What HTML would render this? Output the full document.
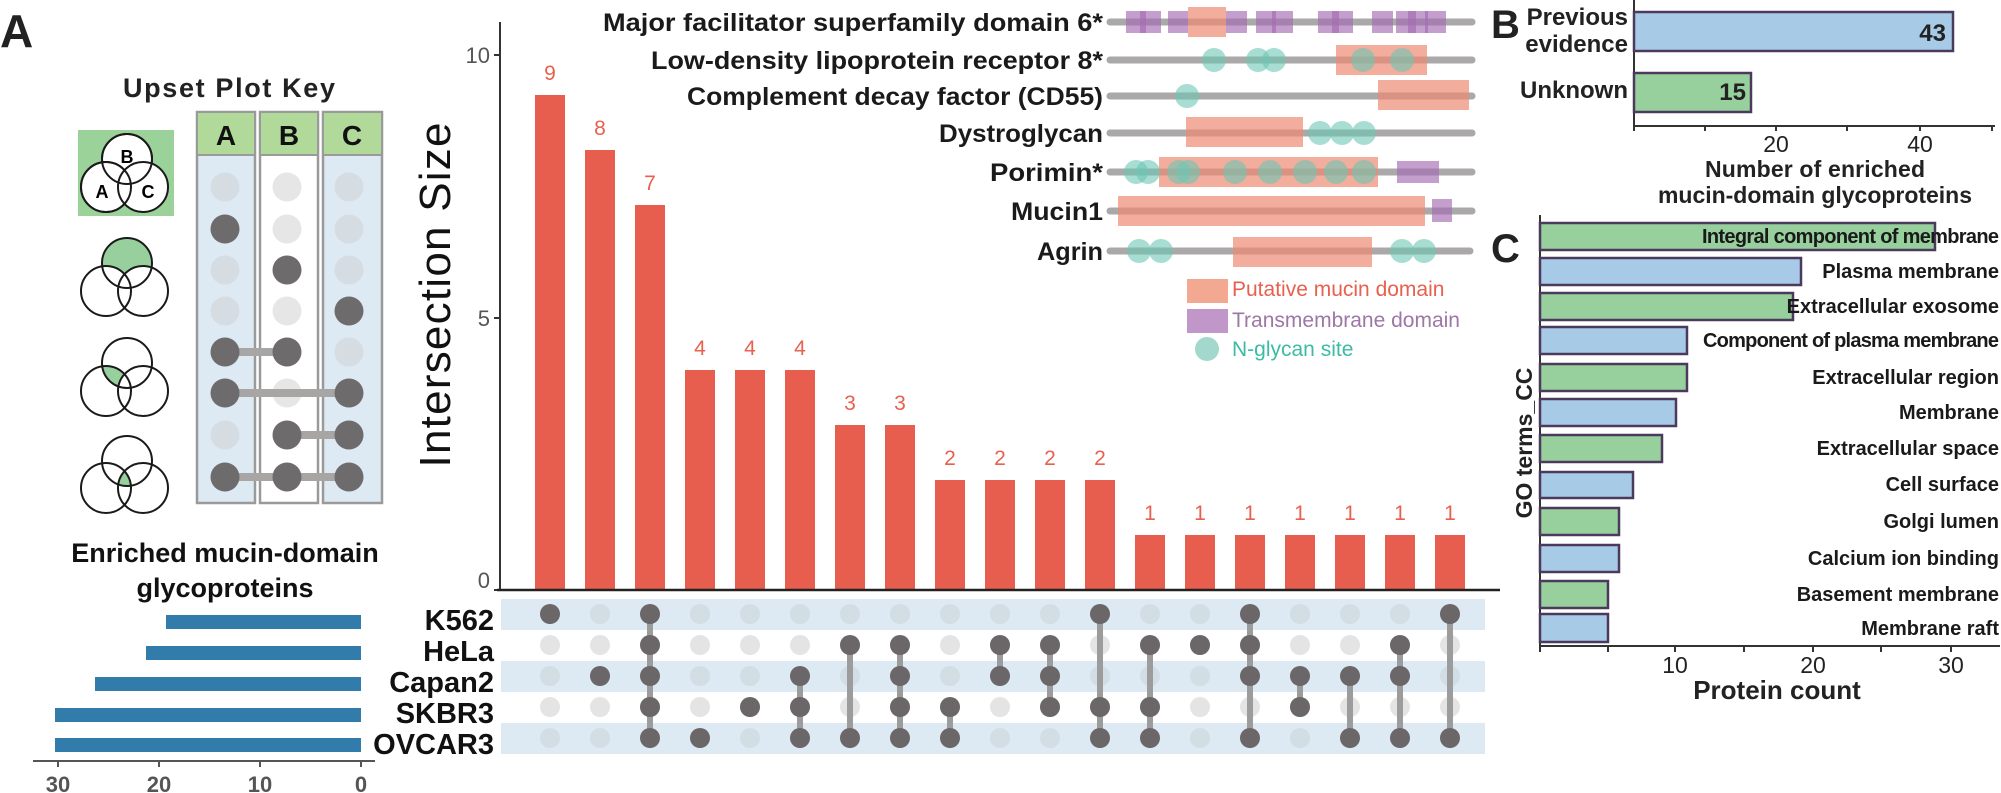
<!DOCTYPE html>
<html><head><meta charset="utf-8"><style>html,body{margin:0;padding:0;background:#fff}svg{display:block}text{font-family:"Liberation Sans",sans-serif}</style></head><body>
<svg width="2001" height="793" viewBox="0 0 2001 793" xmlns="http://www.w3.org/2000/svg">
<defs>
<clipPath id="cA3"><circle cx="106" cy="391" r="25"/></clipPath>
<clipPath id="cA4"><circle cx="106" cy="488" r="25"/></clipPath>
<clipPath id="cC4"><circle cx="143" cy="488" r="25"/></clipPath>
</defs>
<text x="0" y="47" font-size="46" font-weight="bold" fill="#222">A</text>
<text x="1491" y="38" font-size="40" font-weight="bold" fill="#222">B</text>
<text x="1491" y="262" font-size="40" font-weight="bold" fill="#222">C</text>

<text x="229" y="97" font-size="27" font-weight="bold" fill="#222" text-anchor="middle" textLength="212">Upset Plot Key</text>
<rect x="78" y="130" width="96" height="86" fill="#9bd29a"/>
<g stroke="#1a1a1a" stroke-width="2" fill="#fff">
<circle cx="127" cy="159" r="25"/><circle cx="106" cy="187" r="25"/><circle cx="143" cy="187" r="25"/>
</g>
<g fill="none" stroke="#1a1a1a" stroke-width="2"><circle cx="127" cy="159" r="25"/><circle cx="106" cy="187" r="25"/></g>
<text x="127" y="163" font-size="18" font-weight="bold" text-anchor="middle">B</text>
<text x="102" y="198" font-size="18" font-weight="bold" text-anchor="middle">A</text>
<text x="148" y="198" font-size="18" font-weight="bold" text-anchor="middle">C</text>
<circle cx="127" cy="263" r="25" fill="#97d09d"/>
<circle cx="106" cy="291" r="25" fill="#fff"/><circle cx="143" cy="291" r="25" fill="#fff"/>
<g fill="none" stroke="#1a1a1a" stroke-width="2"><circle cx="127" cy="263" r="25"/><circle cx="106" cy="291" r="25"/><circle cx="143" cy="291" r="25"/></g>
<circle cx="127" cy="363" r="25" fill="#97d09d" clip-path="url(#cA3)"/>
<circle cx="143" cy="391" r="25" fill="#fff"/>
<g fill="none" stroke="#1a1a1a" stroke-width="2"><circle cx="127" cy="363" r="25"/><circle cx="106" cy="391" r="25"/><circle cx="143" cy="391" r="25"/></g>
<g clip-path="url(#cA4)"><circle cx="127" cy="461" r="25" fill="#97d09d" clip-path="url(#cC4)"/></g>
<g fill="none" stroke="#1a1a1a" stroke-width="2"><circle cx="127" cy="461" r="25"/><circle cx="106" cy="488" r="25"/><circle cx="143" cy="488" r="25"/></g>

<g stroke="#9a9a9a" stroke-width="2.5">
<rect x="197" y="112" width="58" height="391" fill="#dde9f3"/>
<rect x="260" y="112" width="58" height="391" fill="#fff"/>
<rect x="323" y="112" width="59" height="391" fill="#dde9f3"/>
</g>
<g fill="#b0d99a" stroke="#9a9a9a" stroke-width="2">
<rect x="197" y="112" width="58" height="43"/><rect x="260" y="112" width="58" height="43"/><rect x="323" y="112" width="59" height="43"/>
</g>
<g font-size="28" font-weight="bold" fill="#111" text-anchor="middle">
<text x="226" y="145">A</text><text x="289" y="145">B</text><text x="352" y="145">C</text></g>
<g fill="#d5dde2">
<circle cx="225" cy="187" r="14.5"/><circle cx="225" cy="270" r="14.5"/><circle cx="225" cy="311" r="14.5"/><circle cx="225" cy="435" r="14.5"/>
<circle cx="349" cy="187" r="14.5"/><circle cx="349" cy="229" r="14.5"/><circle cx="349" cy="270" r="14.5"/><circle cx="349" cy="352" r="14.5"/>
</g>
<g fill="#e6e6e6">
<circle cx="287" cy="187" r="14.5"/><circle cx="287" cy="229" r="14.5"/><circle cx="287" cy="311" r="14.5"/><circle cx="287" cy="393" r="14.5"/>
</g>
<g stroke="#a8a5a5" stroke-width="8">
<line x1="225" y1="352" x2="287" y2="352"/><line x1="225" y1="393" x2="349" y2="393"/><line x1="287" y1="435" x2="349" y2="435"/><line x1="225" y1="477" x2="349" y2="477"/>
</g>
<g fill="#6e6b6d">
<circle cx="225" cy="229" r="14.5"/><circle cx="287" cy="270" r="14.5"/><circle cx="349" cy="311" r="14.5"/>
<circle cx="225" cy="352" r="14.5"/><circle cx="287" cy="352" r="14.5"/>
<circle cx="225" cy="393" r="14.5"/><circle cx="349" cy="393" r="14.5"/>
<circle cx="287" cy="435" r="14.5"/><circle cx="349" cy="435" r="14.5"/>
<circle cx="225" cy="477" r="14.5"/><circle cx="287" cy="477" r="14.5"/><circle cx="349" cy="477" r="14.5"/>
</g>

<g font-size="27" font-weight="bold" fill="#111" text-anchor="middle">
<text x="225" y="562">Enriched mucin-domain</text><text x="225" y="597">glycoproteins</text></g>
<g fill="#317cab">
<rect x="166" y="615" width="195" height="14"/>
<rect x="146" y="646" width="215" height="14"/>
<rect x="95" y="677" width="266" height="14"/>
<rect x="55" y="708" width="306" height="14"/>
<rect x="55" y="738" width="306" height="14"/>
</g>
<line x1="33" y1="761" x2="375" y2="761" stroke="#555" stroke-width="2"/>
<g stroke="#555" stroke-width="2"><line x1="58" y1="761" x2="58" y2="767"/><line x1="159" y1="761" x2="159" y2="767"/><line x1="260" y1="761" x2="260" y2="767"/><line x1="361" y1="761" x2="361" y2="767"/></g>
<g font-size="22" font-weight="bold" fill="#555" text-anchor="middle">
<text x="58" y="792">30</text><text x="159" y="792">20</text><text x="260" y="792">10</text><text x="361" y="792">0</text></g>
<g font-size="29" font-weight="bold" fill="#111" text-anchor="end">
<text x="494" y="630">K562</text><text x="494" y="661">HeLa</text><text x="494" y="692">Capan2</text><text x="494" y="723">SKBR3</text><text x="494" y="754">OVCAR3</text></g>

<text transform="translate(450,295) rotate(-90)" font-size="44" fill="#111" text-anchor="middle" textLength="345">Intersection Size</text>
<line x1="500" y1="22" x2="500" y2="590" stroke="#333" stroke-width="2"/>
<g stroke="#333" stroke-width="2"><line x1="494" y1="55" x2="500" y2="55"/><line x1="494" y1="318" x2="500" y2="318"/><line x1="494" y1="590" x2="500" y2="590"/></g>
<g font-size="22" fill="#555" text-anchor="end"><text x="490" y="63">10</text><text x="490" y="326">5</text><text x="490" y="588">0</text></g>
<g fill="#e85e4e">
<rect x="535" y="95" width="30" height="495"/>
<rect x="585" y="150" width="30" height="440"/>
<rect x="635" y="205" width="30" height="385"/>
<rect x="685" y="370" width="30" height="220"/>
<rect x="735" y="370" width="30" height="220"/>
<rect x="785" y="370" width="30" height="220"/>
<rect x="835" y="425" width="30" height="165"/>
<rect x="885" y="425" width="30" height="165"/>
<rect x="935" y="480" width="30" height="110"/>
<rect x="985" y="480" width="30" height="110"/>
<rect x="1035" y="480" width="30" height="110"/>
<rect x="1085" y="480" width="30" height="110"/>
<rect x="1135" y="535" width="30" height="55"/>
<rect x="1185" y="535" width="30" height="55"/>
<rect x="1235" y="535" width="30" height="55"/>
<rect x="1285" y="535" width="30" height="55"/>
<rect x="1335" y="535" width="30" height="55"/>
<rect x="1385" y="535" width="30" height="55"/>
<rect x="1435" y="535" width="30" height="55"/>
</g>
<g font-size="21" fill="#e8604e" text-anchor="middle">
<text x="550" y="80">9</text><text x="600" y="135">8</text><text x="650" y="190">7</text>
<text x="700" y="355">4</text><text x="750" y="355">4</text><text x="800" y="355">4</text>
<text x="850" y="410">3</text><text x="900" y="410">3</text>
<text x="950" y="465">2</text><text x="1000" y="465">2</text><text x="1050" y="465">2</text><text x="1100" y="465">2</text>
<text x="1150" y="520">1</text><text x="1200" y="520">1</text><text x="1250" y="520">1</text><text x="1300" y="520">1</text><text x="1350" y="520">1</text><text x="1400" y="520">1</text><text x="1450" y="520">1</text>
</g>
<line x1="497" y1="590" x2="1500" y2="590" stroke="#222" stroke-width="2.5"/>

<g fill="#dde9f3">
<rect x="501" y="599" width="984" height="31"/><rect x="501" y="661" width="984" height="31"/><rect x="501" y="723" width="984" height="31"/>
</g>
<g fill="#d3dde4">
<circle cx="550" cy="614" r="10"/><circle cx="600" cy="614" r="10"/><circle cx="650" cy="614" r="10"/><circle cx="700" cy="614" r="10"/><circle cx="750" cy="614" r="10"/><circle cx="800" cy="614" r="10"/><circle cx="850" cy="614" r="10"/><circle cx="900" cy="614" r="10"/><circle cx="950" cy="614" r="10"/><circle cx="1000" cy="614" r="10"/><circle cx="1050" cy="614" r="10"/><circle cx="1100" cy="614" r="10"/><circle cx="1150" cy="614" r="10"/><circle cx="1200" cy="614" r="10"/><circle cx="1250" cy="614" r="10"/><circle cx="1300" cy="614" r="10"/><circle cx="1350" cy="614" r="10"/><circle cx="1400" cy="614" r="10"/><circle cx="1450" cy="614" r="10"/>
<circle cx="550" cy="676" r="10"/><circle cx="600" cy="676" r="10"/><circle cx="650" cy="676" r="10"/><circle cx="700" cy="676" r="10"/><circle cx="750" cy="676" r="10"/><circle cx="800" cy="676" r="10"/><circle cx="850" cy="676" r="10"/><circle cx="900" cy="676" r="10"/><circle cx="950" cy="676" r="10"/><circle cx="1000" cy="676" r="10"/><circle cx="1050" cy="676" r="10"/><circle cx="1100" cy="676" r="10"/><circle cx="1150" cy="676" r="10"/><circle cx="1200" cy="676" r="10"/><circle cx="1250" cy="676" r="10"/><circle cx="1300" cy="676" r="10"/><circle cx="1350" cy="676" r="10"/><circle cx="1400" cy="676" r="10"/><circle cx="1450" cy="676" r="10"/>
<circle cx="550" cy="738" r="10"/><circle cx="600" cy="738" r="10"/><circle cx="650" cy="738" r="10"/><circle cx="700" cy="738" r="10"/><circle cx="750" cy="738" r="10"/><circle cx="800" cy="738" r="10"/><circle cx="850" cy="738" r="10"/><circle cx="900" cy="738" r="10"/><circle cx="950" cy="738" r="10"/><circle cx="1000" cy="738" r="10"/><circle cx="1050" cy="738" r="10"/><circle cx="1100" cy="738" r="10"/><circle cx="1150" cy="738" r="10"/><circle cx="1200" cy="738" r="10"/><circle cx="1250" cy="738" r="10"/><circle cx="1300" cy="738" r="10"/><circle cx="1350" cy="738" r="10"/><circle cx="1400" cy="738" r="10"/><circle cx="1450" cy="738" r="10"/>
</g>
<g fill="#e4e4e4">
<circle cx="550" cy="645" r="10"/><circle cx="600" cy="645" r="10"/><circle cx="650" cy="645" r="10"/><circle cx="700" cy="645" r="10"/><circle cx="750" cy="645" r="10"/><circle cx="800" cy="645" r="10"/><circle cx="850" cy="645" r="10"/><circle cx="900" cy="645" r="10"/><circle cx="950" cy="645" r="10"/><circle cx="1000" cy="645" r="10"/><circle cx="1050" cy="645" r="10"/><circle cx="1100" cy="645" r="10"/><circle cx="1150" cy="645" r="10"/><circle cx="1200" cy="645" r="10"/><circle cx="1250" cy="645" r="10"/><circle cx="1300" cy="645" r="10"/><circle cx="1350" cy="645" r="10"/><circle cx="1400" cy="645" r="10"/><circle cx="1450" cy="645" r="10"/>
<circle cx="550" cy="707" r="10"/><circle cx="600" cy="707" r="10"/><circle cx="650" cy="707" r="10"/><circle cx="700" cy="707" r="10"/><circle cx="750" cy="707" r="10"/><circle cx="800" cy="707" r="10"/><circle cx="850" cy="707" r="10"/><circle cx="900" cy="707" r="10"/><circle cx="950" cy="707" r="10"/><circle cx="1000" cy="707" r="10"/><circle cx="1050" cy="707" r="10"/><circle cx="1100" cy="707" r="10"/><circle cx="1150" cy="707" r="10"/><circle cx="1200" cy="707" r="10"/><circle cx="1250" cy="707" r="10"/><circle cx="1300" cy="707" r="10"/><circle cx="1350" cy="707" r="10"/><circle cx="1400" cy="707" r="10"/><circle cx="1450" cy="707" r="10"/>
</g>
<g stroke="#9c9c9c" stroke-width="6">
<line x1="650" y1="614" x2="650" y2="738"/><line x1="800" y1="676" x2="800" y2="738"/><line x1="850" y1="645" x2="850" y2="738"/><line x1="900" y1="645" x2="900" y2="738"/><line x1="950" y1="707" x2="950" y2="738"/><line x1="1000" y1="645" x2="1000" y2="676"/><line x1="1050" y1="645" x2="1050" y2="707"/><line x1="1100" y1="614" x2="1100" y2="738"/><line x1="1150" y1="645" x2="1150" y2="738"/><line x1="1250" y1="614" x2="1250" y2="738"/><line x1="1300" y1="676" x2="1300" y2="707"/><line x1="1350" y1="676" x2="1350" y2="738"/><line x1="1400" y1="645" x2="1400" y2="738"/><line x1="1450" y1="614" x2="1450" y2="738"/>
</g>
<g fill="#6b6768">
<circle cx="550" cy="614" r="10"/>
<circle cx="600" cy="676" r="10"/>
<circle cx="650" cy="614" r="10"/><circle cx="650" cy="645" r="10"/><circle cx="650" cy="676" r="10"/><circle cx="650" cy="707" r="10"/><circle cx="650" cy="738" r="10"/>
<circle cx="700" cy="738" r="10"/>
<circle cx="750" cy="707" r="10"/>
<circle cx="800" cy="676" r="10"/><circle cx="800" cy="707" r="10"/><circle cx="800" cy="738" r="10"/>
<circle cx="850" cy="645" r="10"/><circle cx="850" cy="738" r="10"/>
<circle cx="900" cy="645" r="10"/><circle cx="900" cy="676" r="10"/><circle cx="900" cy="707" r="10"/><circle cx="900" cy="738" r="10"/>
<circle cx="950" cy="707" r="10"/><circle cx="950" cy="738" r="10"/>
<circle cx="1000" cy="645" r="10"/><circle cx="1000" cy="676" r="10"/>
<circle cx="1050" cy="645" r="10"/><circle cx="1050" cy="676" r="10"/><circle cx="1050" cy="707" r="10"/>
<circle cx="1100" cy="614" r="10"/><circle cx="1100" cy="707" r="10"/><circle cx="1100" cy="738" r="10"/>
<circle cx="1150" cy="645" r="10"/><circle cx="1150" cy="707" r="10"/><circle cx="1150" cy="738" r="10"/>
<circle cx="1200" cy="645" r="10"/>
<circle cx="1250" cy="614" r="10"/><circle cx="1250" cy="645" r="10"/><circle cx="1250" cy="676" r="10"/><circle cx="1250" cy="738" r="10"/>
<circle cx="1300" cy="676" r="10"/><circle cx="1300" cy="707" r="10"/>
<circle cx="1350" cy="676" r="10"/><circle cx="1350" cy="738" r="10"/>
<circle cx="1400" cy="645" r="10"/><circle cx="1400" cy="676" r="10"/><circle cx="1400" cy="738" r="10"/>
<circle cx="1450" cy="614" r="10"/><circle cx="1450" cy="738" r="10"/>
</g>

<g font-size="25" font-weight="bold" fill="#1a1a1a" text-anchor="end">
<text x="1103" y="31" textLength="500" lengthAdjust="spacingAndGlyphs">Major facilitator superfamily domain 6*</text>
<text x="1103" y="69" textLength="452" lengthAdjust="spacingAndGlyphs">Low-density lipoprotein receptor 8*</text>
<text x="1103" y="105" textLength="416" lengthAdjust="spacingAndGlyphs">Complement decay factor (CD55)</text>
<text x="1103" y="142" textLength="164" lengthAdjust="spacingAndGlyphs">Dystroglycan</text>
<text x="1103" y="181" textLength="113" lengthAdjust="spacingAndGlyphs">Porimin*</text>
<text x="1103" y="220" textLength="92" lengthAdjust="spacingAndGlyphs">Mucin1</text>
<text x="1103" y="260" textLength="66" lengthAdjust="spacingAndGlyphs">Agrin</text>
</g>
<g stroke="#aaa8a8" stroke-width="7" stroke-linecap="round">
<line x1="1110" y1="22" x2="1472" y2="22"/><line x1="1110" y1="60" x2="1472" y2="60"/><line x1="1110" y1="96" x2="1472" y2="96"/><line x1="1110" y1="133" x2="1472" y2="133"/><line x1="1110" y1="172" x2="1472" y2="172"/><line x1="1110" y1="211" x2="1472" y2="211"/><line x1="1110" y1="251" x2="1470" y2="251"/>
</g>
<g fill="#ee8a73" fill-opacity="0.7">
<rect x="1188" y="7" width="38" height="30"/>
<rect x="1336" y="45" width="91" height="30"/>
<rect x="1378" y="80" width="91" height="30"/>
<rect x="1186" y="117" width="117" height="30"/>
<rect x="1159" y="157" width="219" height="30"/>
<rect x="1118" y="196" width="307" height="30"/>
<rect x="1233" y="237" width="139" height="30"/>
</g>
<g fill="#a46cb2" fill-opacity="0.65">
<rect x="1126" y="11" width="35" height="22"/><rect x="1168" y="11" width="20" height="22"/><rect x="1226" y="11" width="21" height="22"/><rect x="1256" y="11" width="37" height="22"/><rect x="1318" y="11" width="35" height="22"/><rect x="1372" y="11" width="21" height="22"/><rect x="1396" y="11" width="50" height="22"/>
<rect x="1140" y="11" width="6" height="22"/><rect x="1272" y="11" width="4" height="22"/><rect x="1332" y="11" width="7" height="22"/><rect x="1408" y="11" width="8" height="22"/><rect x="1425" y="11" width="3" height="22"/>
<rect x="1397" y="161" width="42" height="22"/>
<rect x="1432" y="199" width="20" height="23"/>
</g>
<g fill="#6cc6b4" fill-opacity="0.6">
<circle cx="1214" cy="60" r="12"/><circle cx="1258" cy="60" r="12"/><circle cx="1274" cy="60" r="12"/><circle cx="1363" cy="60" r="12"/><circle cx="1402" cy="60" r="12"/>
<circle cx="1187" cy="96" r="12"/>
<circle cx="1320" cy="133" r="12"/><circle cx="1342" cy="133" r="12"/><circle cx="1364" cy="133" r="12"/>
<circle cx="1136" cy="172" r="12"/><circle cx="1148" cy="172" r="12"/><circle cx="1179" cy="172" r="12"/><circle cx="1188" cy="172" r="12"/><circle cx="1235" cy="172" r="12"/><circle cx="1270" cy="172" r="12"/><circle cx="1305" cy="172" r="12"/><circle cx="1336" cy="172" r="12"/><circle cx="1364" cy="172" r="12"/>
<circle cx="1139" cy="251" r="12"/><circle cx="1161" cy="251" r="12"/><circle cx="1402" cy="251" r="12"/><circle cx="1424" cy="251" r="12"/>
</g>
<rect x="1187" y="279" width="41" height="24" fill="#f3a892"/>
<text x="1232" y="296" font-size="21" fill="#e8604e">Putative mucin domain</text>
<rect x="1187" y="309" width="41" height="24" fill="#c197c9"/>
<text x="1232" y="327" font-size="21" fill="#9d77a6">Transmembrane domain</text>
<circle cx="1207" cy="349" r="12" fill="#a3d8cd"/>
<text x="1232" y="356" font-size="21" fill="#3dbba5">N-glycan site</text>

<line x1="1634" y1="0" x2="1634" y2="126" stroke="#333" stroke-width="2"/>
<rect x="1634" y="12" width="319" height="39" fill="#a7cae6" stroke="#4b3a5c" stroke-width="2.5"/>
<rect x="1634" y="73" width="117" height="39" fill="#97d09d" stroke="#4b3a5c" stroke-width="2.5"/>
<line x1="1634" y1="126" x2="1995" y2="126" stroke="#333" stroke-width="2"/>
<g stroke="#333" stroke-width="2"><line x1="1634" y1="126" x2="1634" y2="131"/><line x1="1705" y1="126" x2="1705" y2="131"/><line x1="1776" y1="126" x2="1776" y2="131"/><line x1="1847" y1="126" x2="1847" y2="131"/><line x1="1920" y1="126" x2="1920" y2="131"/><line x1="1992" y1="126" x2="1992" y2="131"/></g>
<g font-size="23" fill="#222" text-anchor="middle"><text x="1776" y="152">20</text><text x="1920" y="152">40</text>
<text x="1815" y="177" font-weight="bold" textLength="220">Number of enriched</text><text x="1815" y="203" font-weight="bold" textLength="314">mucin-domain glycoproteins</text></g>
<g font-size="24" fill="#222" text-anchor="end" font-weight="bold"><text x="1946" y="41">43</text><text x="1746" y="100">15</text>
<text x="1628" y="25">Previous</text><text x="1628" y="52">evidence</text><text x="1628" y="98">Unknown</text></g>

<line x1="1540" y1="215" x2="1540" y2="646" stroke="#333" stroke-width="2"/>
<g stroke="#4b3a5c" stroke-width="2.5">
<rect x="1540" y="223" width="395" height="27" fill="#97d09d"/>
<rect x="1540" y="258" width="261" height="27" fill="#a7cae6"/>
<rect x="1540" y="293" width="253" height="27" fill="#97d09d"/>
<rect x="1540" y="327" width="147" height="27" fill="#a7cae6"/>
<rect x="1540" y="364" width="147" height="27" fill="#97d09d"/>
<rect x="1540" y="399" width="136" height="27" fill="#a7cae6"/>
<rect x="1540" y="435" width="122" height="27" fill="#97d09d"/>
<rect x="1540" y="472" width="93" height="26" fill="#a7cae6"/>
<rect x="1540" y="508" width="79" height="27" fill="#97d09d"/>
<rect x="1540" y="545" width="79" height="27" fill="#a7cae6"/>
<rect x="1540" y="581" width="68" height="27" fill="#97d09d"/>
<rect x="1540" y="614" width="68" height="28" fill="#a7cae6"/>
</g>
<g font-size="20" font-weight="bold" fill="#1a1a1a" text-anchor="end">
<text x="1999" y="243" textLength="297">Integral component of membrane</text>
<text x="1999" y="278">Plasma membrane</text>
<text x="1999" y="313">Extracellular exosome</text>
<text x="1999" y="347" textLength="296">Component of plasma membrane</text>
<text x="1999" y="384">Extracellular region</text>
<text x="1999" y="419">Membrane</text>
<text x="1999" y="455">Extracellular space</text>
<text x="1999" y="491">Cell surface</text>
<text x="1999" y="528">Golgi lumen</text>
<text x="1999" y="565">Calcium ion binding</text>
<text x="1999" y="601">Basement membrane</text>
<text x="1999" y="635">Membrane raft</text>
</g>
<line x1="1540" y1="646" x2="2000" y2="646" stroke="#333" stroke-width="2"/>
<g stroke="#333" stroke-width="2"><line x1="1540" y1="646" x2="1540" y2="652"/><line x1="1608" y1="646" x2="1608" y2="652"/><line x1="1675" y1="646" x2="1675" y2="652"/><line x1="1744" y1="646" x2="1744" y2="652"/><line x1="1813" y1="646" x2="1813" y2="652"/><line x1="1881" y1="646" x2="1881" y2="652"/><line x1="1951" y1="646" x2="1951" y2="652"/></g>
<g font-size="23" fill="#222" text-anchor="middle"><text x="1675" y="673">10</text><text x="1813" y="673">20</text><text x="1951" y="673">30</text></g>
<text x="1777" y="699" font-size="26" font-weight="bold" fill="#222" text-anchor="middle">Protein count</text>
<text transform="translate(1532,443) rotate(-90)" font-size="23" font-weight="bold" fill="#222" text-anchor="middle">GO terms_CC</text>
</svg>
</body></html>
